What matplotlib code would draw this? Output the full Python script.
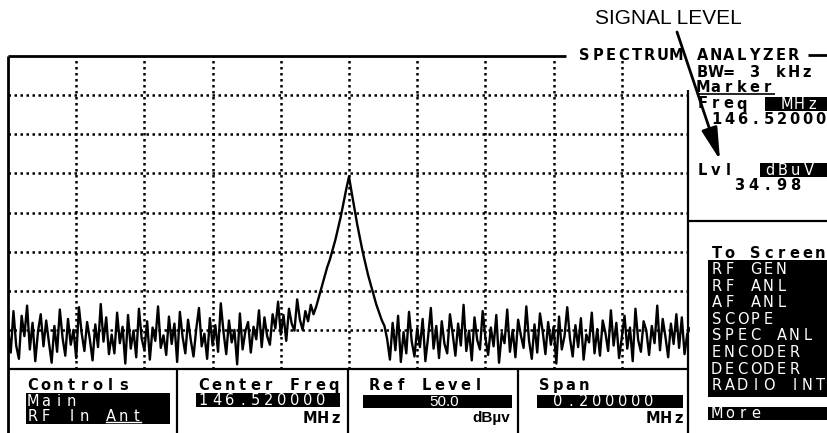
import numpy as np
import matplotlib
matplotlib.use('Agg')
import matplotlib.pyplot as plt
from matplotlib.patches import Rectangle

# spectrum trace, dBuV (251 points across the span)
noise_left = [
    15.2, 12.1, 17.4, 13.0, 11.3, 16.8, 14.2, 18.1, 12.5, 15.9, 11.0, 14.8, 17.0, 12.9, 16.2, 13.4, 10.8, 15.5, 12.2, 17.6,
    14.0, 11.7, 16.4, 13.1, 15.0, 11.4, 17.9, 14.6, 12.3, 16.0, 13.8, 11.1, 15.7, 12.8, 18.3, 13.5, 16.6, 11.9, 14.4, 12.0,
    17.2, 13.3, 15.4, 10.7, 16.9, 12.6, 14.9, 11.5, 17.7, 13.9, 12.4, 16.1, 11.2, 15.3, 13.6, 18.0, 12.7, 14.3, 11.8, 16.7,
    13.2, 15.8, 10.9, 17.3, 14.1, 12.0, 16.3, 13.7, 11.6, 15.1, 17.8, 12.9, 14.5, 11.3, 16.5, 13.0, 15.6, 12.2, 18.4, 14.7,
    11.9, 16.2, 13.4, 15.0, 10.6, 17.1, 12.5, 14.8, 16.0, 12.1, 15.4, 13.8, 17.5, 12.8, 16.6, 14.2, 13.1, 17.0, 15.2, 18.6,
    14.4, 16.9, 13.6, 17.7, 15.8, 14.9, 18.9, 16.3, 15.0, 17.4, 16.1, 18.2]
peak = [
    17.0, 18.0, 19.25, 20.5, 21.75, 23.0, 24.0, 25.25, 26.5, 28.0, 29.5, 31.25, 33.0,
    34.6,
    32.5, 30.5, 28.5, 26.75, 25.0, 23.5, 22.0, 20.75, 19.5, 18.25, 17.25, 16.25, 15.5]
noise_right = [
    13.8, 11.2, 15.9, 12.4, 16.8, 10.9, 14.7, 12.0, 17.3, 13.5, 11.6, 15.2, 12.8, 16.4, 11.0, 14.1, 17.8, 12.6, 15.5, 11.4,
    16.1, 13.2, 12.0, 17.0, 14.5, 11.7, 15.8, 13.0, 18.2, 12.3, 14.9, 11.1, 16.6, 13.7, 12.5, 17.4, 14.0, 11.8, 15.3, 12.9,
    16.9, 10.8, 14.6, 13.3, 17.6, 12.2, 15.0, 11.5, 16.3, 14.3, 12.7, 18.0, 13.6, 11.3, 15.7, 12.1, 17.1, 14.8, 11.9, 16.0,
    13.1, 15.4, 10.7, 16.7, 12.5, 14.2, 17.9, 13.9, 11.6, 15.6, 12.8, 16.5, 11.2, 14.4, 13.4, 17.2, 12.0, 15.1, 11.7, 16.2,
    14.6, 12.3, 17.5, 13.0, 15.9, 11.4, 14.0, 16.8, 12.6, 15.3, 11.0, 17.7, 13.7, 12.2, 16.1, 14.9, 11.8, 15.5, 13.3, 18.1,
    12.4, 16.4, 14.1, 11.5, 15.8, 13.2, 17.0, 12.7, 16.6, 11.9, 14.5, 15.2]

center_mhz = 146.52
span_mhz = 0.2
ref_level = 50.0
db_per_div = 5.0

menu_items = ['RF GEN', 'RF ANL', 'AF ANL', 'SCOPE', 'SPEC ANL', 'ENCODER', 'DECODER', 'RADIO INT']

level = noise_left + peak + noise_right
freq = np.linspace(center_mhz - span_mhz / 2, center_mhz + span_mhz / 2, len(level))

fig = plt.figure(figsize=(8.27, 4.33), dpi=100)

# trace area: 10 x 8 divisions
ax = fig.add_axes([8 / 827, 64 / 433, 682 / 827, 313 / 433])
ax.plot(freq, level, color='black', lw=1.7)
ax.set_xlim(center_mhz - span_mhz / 2, center_mhz + span_mhz / 2)
ax.set_ylim(ref_level - 8 * db_per_div, ref_level)
ax.set_xticks(np.linspace(center_mhz - span_mhz / 2, center_mhz + span_mhz / 2, 11)[1:-1])
ax.set_yticks(np.arange(ref_level - 7 * db_per_div, ref_level, db_per_div))
ax.grid(color='black', linestyle=(0, (1, 1.4)), linewidth=1.8)
ax.tick_params(length=0, labelbottom=False, labelleft=False)
for s in ax.spines.values():
    s.set_visible(False)

# overlay in screen pixels for the instrument panels
ov = fig.add_axes([0, 0, 1, 1])
ov.set_xlim(0, 827)
ov.set_ylim(433, 0)
ov.axis('off')


def mono(x, y, s, color='black', weight='bold', size=10.5, pitch=13):
    # instrument font: fixed pitch, one glyph at a time
    for i, ch in enumerate(s):
        if ch != ' ':
            ov.text(x + 4.5 + i * pitch, y + 5, ch, ha='center', va='baseline',
                    family='DejaVu Sans', fontsize=size, weight=weight, color=color)


def box(x0, y0, x1, y1):
    ov.add_patch(Rectangle((x0, y0), x1 - x0, y1 - y0, color='black', lw=0))


def line(xs, ys, lw=1.6):
    ov.plot(xs, ys, color='black', lw=lw, solid_capstyle='butt')


# frame lines
line([8, 566], [56, 56], 2)
line([8, 8], [56, 433], 2)
line([8, 688], [369, 369], 1.6)
for x in [177, 348, 518]:
    line([x, x], [369, 433])
line([688, 688], [90, 433])
line([688, 827], [221, 221])
line([697, 775], [94, 94], 1.2)
line([808, 827], [55, 55], 2)

# header and marker readout
mono(580, 55, 'SPECTRUM')
mono(698, 55, 'ANALYZER')
mono(698, 72, 'BW= 3 kHz')
mono(698, 87, 'Marker')
mono(698, 103.5, 'Freq')
box(765, 97, 827, 111)
mono(782, 104, 'MHz', color='white', weight='normal')
mono(712, 119.5, '146.52000')
mono(698, 170, 'Lvl')
box(760, 163, 827, 177)
mono(765, 170, 'dBuV', color='white', weight='normal')
mono(735, 185, '34.98', pitch=14)

# screen menu
mono(712, 253, 'To Screen')
box(708, 260, 827, 397)
for i, item in enumerate(menu_items):
    mono(712, 269 + i * 16.6, item, color='white', weight='normal')
box(708, 407, 827, 420)
mono(712, 413, 'More', color='white', weight='normal')

# bottom fields
mono(28, 385, 'Controls')
box(26, 393, 170, 424)
mono(28, 401, 'Main', color='white', weight='normal')
mono(28, 416, 'RF In Ant', color='white', weight='normal')
ov.plot([106, 141], [422, 422], color='white', lw=1)

mono(199, 385, 'Center Freq')
box(196, 393, 340, 407)
mono(199, 400, '146.520000', color='white', weight='normal')
mono(305, 418, 'MHz')

mono(370, 385, 'Ref Level')
box(363, 395, 512, 408)
ov.text(429, 401.5, '50.0', color='white', fontsize=11, family='Liberation Sans',
        ha='left', va='center')
ov.text(510, 418, 'dB\u00b5v', color='black', fontsize=11, weight='bold',
        family='Liberation Sans', ha='right', va='center')

mono(540, 385, 'Span')
box(537, 395, 683, 408)
mono(553, 401, '0.200000', color='white', weight='normal')
mono(648, 418, 'MHz')

# callout
ov.text(595, 19, 'SIGNAL LEVEL', fontsize=15, family='Liberation Sans',
        ha='left', va='center')
ov.annotate('', xy=(720, 160), xytext=(677, 32),
            arrowprops=dict(arrowstyle='-|>,head_length=1.4,head_width=0.35',
                            lw=2, color='black', mutation_scale=14, shrinkA=0, shrinkB=0))

fig.savefig('out.png', dpi=100)
